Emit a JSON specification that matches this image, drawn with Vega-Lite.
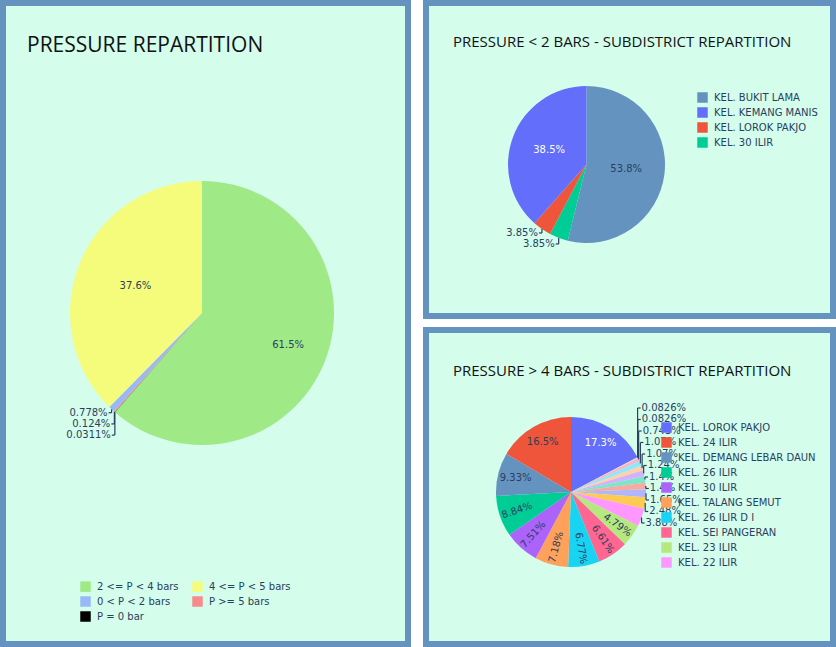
{
  "$schema": "https://vega.github.io/schema/vega-lite/v6.json",
  "background": "#ffffff",
  "padding": 0,
  "config": {
    "view": {"fill": "#d4fdec", "stroke": "#6593bf", "strokeWidth": 6},
    "font": "DejaVu Sans",
    "title": {"font": "Open Sans", "fontWeight": "normal", "color": "#111111", "anchor": "start", "frame": "group", "offset": 0, "baseline": "alphabetic"},
    "legend": {"labelFont": "DejaVu Sans", "labelFontSize": 10, "labelColor": "#2a3f5f", "symbolType": "square", "symbolSize": 110, "symbolStrokeWidth": 0, "rowPadding": 4, "padding": 0, "labelOffset": 6, "orient": "none", "labelLimit": 300}
  },
  "spacing": 12,
  "resolve": {"scale": {"color": "independent", "x": "independent", "y": "independent", "theta": "independent"}, "legend": {"color": "independent"}},
  "hconcat": [
    {
      "width": 405,
      "height": 641,
      "title": {"text": "PRESSURE REPARTITION", "fontSize": 21, "dx": 24, "dy": 57},
      "data": {"values": [
        {"range": "2 <= P < 4 bars", "count": 1976},
        {"range": "P = 0 bar", "count": 1},
        {"range": "P >= 5 bars", "count": 4},
        {"range": "0 < P < 2 bars", "count": 25},
        {"range": "4 <= P < 5 bars", "count": 1209}
      ]},
      "transform": [
        {"window": [{"op": "row_number", "as": "idx"}]},
        {"joinaggregate": [{"op": "sum", "field": "count", "as": "total"}]},
        {"window": [{"op": "sum", "field": "count", "as": "cum"}], "sort": [{"field": "idx", "order": "ascending"}], "frame": [null, 0]},
        {"calculate": "format(datum.count / datum.total, '.3~p')", "as": "plabel"},
        {"calculate": "(datum.cum - datum.count / 2) / datum.total * 2 * PI", "as": "rad"},
        {"calculate": "datum.count / datum.total > 0.5 ? 92 : 72", "as": "lrad"},
        {"calculate": "0.4914 + 132 * sin(datum.rad) / 405", "as": "ex"},
        {"calculate": "0.4836 - 132 * cos(datum.rad) / 641", "as": "ey"}
      ],
      "resolve": {"scale": {"theta": "independent"}},
      "layer": [
        {
          "mark": {"type": "arc", "outerRadius": 132},
          "encoding": {
            "theta": {"field": "count", "type": "quantitative", "stack": true},
            "order": {"field": "idx", "type": "quantitative"},
            "color": {"field": "range", "type": "nominal",
              "scale": {"domain": ["2 <= P < 4 bars", "4 <= P < 5 bars", "0 < P < 2 bars", "P >= 5 bars", "P = 0 bar"],
                        "range": ["#9fea87", "#f5fc7c", "#99b9f6", "#f78a8a", "#000000"]},
              "legend": {"title": null, "columns": 2, "direction": "horizontal", "columnPadding": 13, "legendX": 77, "legendY": 578}},
            "x": {"datum": 0.4914, "type": "quantitative", "scale": {"domain": [0, 1], "nice": false, "zero": false}, "axis": null},
            "y": {"datum": 0.4836, "type": "quantitative", "scale": {"domain": [0, 1], "nice": false, "zero": false, "reverse": true}, "axis": null}
          }
        },
        {
          "transform": [{"filter": "datum.count >= 100"}],
          "mark": {"type": "text", "fontSize": 10, "color": "#2a3f5f", "baseline": "middle"},
          "encoding": {
            "theta": {"field": "rad", "type": "quantitative", "scale": null},
            "radius": {"field": "lrad", "type": "quantitative", "scale": null},
            "text": {"field": "plabel", "type": "nominal"},
            "x": {"datum": 0.4914, "type": "quantitative", "scale": {"domain": [0, 1], "nice": false, "zero": false}, "axis": null},
            "y": {"datum": 0.4836, "type": "quantitative", "scale": {"domain": [0, 1], "nice": false, "zero": false, "reverse": true}, "axis": null}
          }
        },
        {
          "transform": [
            {"filter": "datum.count < 100"},
            {"window": [{"op": "row_number", "as": "rank"}], "sort": [{"field": "idx", "order": "descending"}]},
            {"calculate": "0.6392 + (datum.rank - 1) * 0.01747", "as": "ly"},
            {"calculate": "datum.ex - 3 / 405", "as": "ex2"}
          ],
          "layer": [
            {"mark": {"type": "rule", "color": "#2a3f5f", "strokeWidth": 1.2},
             "encoding": {
               "x": {"field": "ex", "type": "quantitative", "scale": {"domain": [0, 1], "nice": false, "zero": false}, "axis": null},
               "y": {"field": "ey", "type": "quantitative", "scale": {"domain": [0, 1], "nice": false, "zero": false, "reverse": true}, "axis": null},
               "y2": {"field": "ly"}
             }},
            {"mark": {"type": "rule", "color": "#2a3f5f", "strokeWidth": 1.2},
             "encoding": {
               "x": {"field": "ex", "type": "quantitative", "scale": {"domain": [0, 1], "nice": false, "zero": false}, "axis": null},
               "x2": {"field": "ex2"},
               "y": {"field": "ly", "type": "quantitative", "scale": {"domain": [0, 1], "nice": false, "zero": false, "reverse": true}, "axis": null}
             }},
            {"mark": {"type": "text", "align": "right", "baseline": "middle", "dx": -4, "fontSize": 10, "color": "#2a3f5f"},
             "encoding": {
               "x": {"field": "ex", "type": "quantitative", "scale": {"domain": [0, 1], "nice": false, "zero": false}, "axis": null},
               "y": {"field": "ly", "type": "quantitative", "scale": {"domain": [0, 1], "nice": false, "zero": false, "reverse": true}, "axis": null},
               "text": {"field": "plabel", "type": "nominal"}
             }}
          ]
        }
      ]
    },
    {
      "spacing": 8,
      "resolve": {"scale": {"color": "independent", "x": "independent", "y": "independent", "theta": "independent"}, "legend": {"color": "independent"}},
      "vconcat": [
        {
          "width": 407,
          "height": 313,
          "title": {"text": "PRESSURE < 2 BARS - SUBDISTRICT REPARTITION", "fontSize": 15, "dx": 27, "dy": 51},
          "data": {"values": [
            {"sub": "KEL. BUKIT LAMA", "count": 14},
            {"sub": "KEL. 30 ILIR", "count": 1},
            {"sub": "KEL. LOROK PAKJO", "count": 1},
            {"sub": "KEL. KEMANG MANIS", "count": 10}
          ]},
          "transform": [
            {"window": [{"op": "row_number", "as": "idx"}]},
            {"joinaggregate": [{"op": "sum", "field": "count", "as": "total"}]},
            {"window": [{"op": "sum", "field": "count", "as": "cum"}], "sort": [{"field": "idx", "order": "ascending"}], "frame": [null, 0]},
            {"calculate": "format(datum.count / datum.total, '.3~p')", "as": "plabel"},
            {"calculate": "(datum.cum - datum.count / 2) / datum.total * 2 * PI", "as": "rad"},
            {"calculate": "0.3944 + 78.5 * sin(datum.rad) / 407", "as": "ex"},
            {"calculate": "0.516 - 78.5 * cos(datum.rad) / 313", "as": "ey"}
          ],
          "resolve": {"scale": {"theta": "independent"}},
          "layer": [
            {
              "mark": {"type": "arc", "outerRadius": 78.5},
              "encoding": {
                "theta": {"field": "count", "type": "quantitative", "stack": true},
                "order": {"field": "idx", "type": "quantitative"},
                "color": {"field": "sub", "type": "nominal",
                  "scale": {"domain": ["KEL. BUKIT LAMA", "KEL. KEMANG MANIS", "KEL. LOROK PAKJO", "KEL. 30 ILIR"],
                            "range": ["#6593bf", "#636efa", "#ef553b", "#00cc96"]},
                  "legend": {"title": null, "legendX": 271, "legendY": 89}},
                "x": {"datum": 0.3944, "type": "quantitative", "scale": {"domain": [0, 1], "nice": false, "zero": false}, "axis": null},
                "y": {"datum": 0.516, "type": "quantitative", "scale": {"domain": [0, 1], "nice": false, "zero": false, "reverse": true}, "axis": null}
              }
            },
            {
              "transform": [{"filter": "datum.count >= 5"}],
              "mark": {"type": "text", "radius": 40, "fontSize": 10, "baseline": "middle"},
              "encoding": {
                "theta": {"field": "rad", "type": "quantitative", "scale": null},
                "text": {"field": "plabel", "type": "nominal"},
                "color": {"condition": {"test": "datum.sub === 'KEL. KEMANG MANIS'", "value": "#ffffff"}, "value": "#2a3f5f"},
                "x": {"datum": 0.3944, "type": "quantitative", "scale": {"domain": [0, 1], "nice": false, "zero": false}, "axis": null},
                "y": {"datum": 0.516, "type": "quantitative", "scale": {"domain": [0, 1], "nice": false, "zero": false, "reverse": true}, "axis": null}
              }
            },
            {
              "transform": [
                {"filter": "datum.count < 5"},
                {"window": [{"op": "row_number", "as": "rank"}], "sort": [{"field": "idx", "order": "descending"}]},
                {"calculate": "0.7348 + (datum.rank - 1) * 0.0351", "as": "ly"},
                {"calculate": "datum.ex - 3 / 407", "as": "ex2"}
              ],
              "layer": [
                {"mark": {"type": "rule", "color": "#2a3f5f", "strokeWidth": 1.2},
                 "encoding": {
                   "x": {"field": "ex", "type": "quantitative", "scale": {"domain": [0, 1], "nice": false, "zero": false}, "axis": null},
                   "y": {"field": "ey", "type": "quantitative", "scale": {"domain": [0, 1], "nice": false, "zero": false, "reverse": true}, "axis": null},
                   "y2": {"field": "ly"}
                 }},
                {"mark": {"type": "rule", "color": "#2a3f5f", "strokeWidth": 1.2},
                 "encoding": {
                   "x": {"field": "ex", "type": "quantitative", "scale": {"domain": [0, 1], "nice": false, "zero": false}, "axis": null},
                   "x2": {"field": "ex2"},
                   "y": {"field": "ly", "type": "quantitative", "scale": {"domain": [0, 1], "nice": false, "zero": false, "reverse": true}, "axis": null}
                 }},
                {"mark": {"type": "text", "align": "right", "baseline": "middle", "dx": -4, "fontSize": 10, "color": "#2a3f5f"},
                 "encoding": {
                   "x": {"field": "ex", "type": "quantitative", "scale": {"domain": [0, 1], "nice": false, "zero": false}, "axis": null},
                   "y": {"field": "ly", "type": "quantitative", "scale": {"domain": [0, 1], "nice": false, "zero": false, "reverse": true}, "axis": null},
                   "text": {"field": "plabel", "type": "nominal"}
                 }}
              ]
            }
          ]
        },
        {
          "width": 407,
          "height": 314,
          "title": {"text": "PRESSURE > 4 BARS - SUBDISTRICT REPARTITION", "fontSize": 15, "dx": 27, "dy": 53},
          "data": {"values": [
            {"sub": "KEL. LOROK PAKJO", "count": 210},
            {"sub": "KEL. 20 ILIR D III", "count": 1},
            {"sub": "KEL. SIRING AGUNG", "count": 1},
            {"sub": "KEL. 9 ILIR", "count": 9},
            {"sub": "KEL. 15 ILIR", "count": 13},
            {"sub": "KEL. 16 ILIR", "count": 13},
            {"sub": "KEL. 17 ILIR", "count": 15},
            {"sub": "KEL. 18 ILIR", "count": 17},
            {"sub": "KEL. 19 ILIR", "count": 17},
            {"sub": "KEL. 20 ILIR D II", "count": 20},
            {"sub": "KEL. 20 ILIR D IV", "count": 30},
            {"sub": "KEL. 22 ILIR", "count": 47},
            {"sub": "KEL. 23 ILIR", "count": 58},
            {"sub": "KEL. SEI PANGERAN", "count": 80},
            {"sub": "KEL. 26 ILIR D I", "count": 82},
            {"sub": "KEL. TALANG SEMUT", "count": 87},
            {"sub": "KEL. 30 ILIR", "count": 91},
            {"sub": "KEL. 26 ILIR", "count": 107},
            {"sub": "KEL. DEMANG LEBAR DAUN", "count": 113},
            {"sub": "KEL. 24 ILIR", "count": 200}
          ]},
          "transform": [
            {"window": [{"op": "row_number", "as": "idx"}]},
            {"joinaggregate": [{"op": "sum", "field": "count", "as": "total"}]},
            {"window": [{"op": "sum", "field": "count", "as": "cum"}], "sort": [{"field": "idx", "order": "ascending"}], "frame": [null, 0]},
            {"calculate": "format(datum.count / datum.total, '.3~p')", "as": "plabel"},
            {"calculate": "(datum.cum - datum.count / 2) / datum.total * 2 * PI", "as": "rad"},
            {"calculate": "datum.rad * 180 / PI", "as": "deg"},
            {"calculate": "datum.count >= 110 ? 0 : (datum.deg - 90 > 90 ? datum.deg - 270 : datum.deg - 90)", "as": "tang"},
            {"calculate": "0.3563 + 75 * sin(datum.rad) / 407", "as": "ex"},
            {"calculate": "0.5159 - 75 * cos(datum.rad) / 314", "as": "ey"}
          ],
          "resolve": {"scale": {"theta": "independent"}},
          "layer": [
            {
              "mark": {"type": "arc", "outerRadius": 75},
              "encoding": {
                "theta": {"field": "count", "type": "quantitative", "stack": true},
                "order": {"field": "idx", "type": "quantitative"},
                "color": {"field": "sub", "type": "nominal",
                  "scale": {"domain": ["KEL. LOROK PAKJO", "KEL. 24 ILIR", "KEL. DEMANG LEBAR DAUN", "KEL. 26 ILIR", "KEL. 30 ILIR", "KEL. TALANG SEMUT", "KEL. 26 ILIR D I", "KEL. SEI PANGERAN", "KEL. 23 ILIR", "KEL. 22 ILIR", "KEL. 20 ILIR D IV", "KEL. 20 ILIR D II", "KEL. 19 ILIR", "KEL. 18 ILIR", "KEL. 17 ILIR", "KEL. 16 ILIR", "KEL. 15 ILIR", "KEL. 9 ILIR", "KEL. SIRING AGUNG", "KEL. 20 ILIR D III"],
                            "range": ["#636efa", "#ef553b", "#6593bf", "#00cc96", "#ab63fa", "#ffa15a", "#19d3f3", "#ff6692", "#b6e880", "#ff97ff", "#fecb52", "#b1b6fc", "#f7aa9d", "#7fe5ca", "#d5b1fc", "#ffd0ac", "#8ce9f9", "#ffb2c8", "#daf3bf", "#ffcbff"]},
                  "legend": {"title": null, "legendX": 235, "legendY": 92,
                    "values": ["KEL. LOROK PAKJO", "KEL. 24 ILIR", "KEL. DEMANG LEBAR DAUN", "KEL. 26 ILIR", "KEL. 30 ILIR", "KEL. TALANG SEMUT", "KEL. 26 ILIR D I", "KEL. SEI PANGERAN", "KEL. 23 ILIR", "KEL. 22 ILIR"]}},
                "x": {"datum": 0.3563, "type": "quantitative", "scale": {"domain": [0, 1], "nice": false, "zero": false}, "axis": null},
                "y": {"datum": 0.5159, "type": "quantitative", "scale": {"domain": [0, 1], "nice": false, "zero": false, "reverse": true}, "axis": null}
              }
            },
            {
              "transform": [{"filter": "datum.count >= 50"}],
              "mark": {"type": "text", "radius": 57, "fontSize": 10, "baseline": "middle"},
              "encoding": {
                "theta": {"field": "rad", "type": "quantitative", "scale": null},
                "angle": {"field": "tang", "type": "quantitative", "scale": null},
                "text": {"field": "plabel", "type": "nominal"},
                "color": {"condition": {"test": "datum.sub === 'KEL. LOROK PAKJO'", "value": "#ffffff"}, "value": "#2a3f5f"},
                "x": {"datum": 0.3563, "type": "quantitative", "scale": {"domain": [0, 1], "nice": false, "zero": false}, "axis": null},
                "y": {"datum": 0.5159, "type": "quantitative", "scale": {"domain": [0, 1], "nice": false, "zero": false, "reverse": true}, "axis": null}
              }
            },
            {
              "transform": [
                {"filter": "datum.count < 50"},
                {"window": [{"op": "row_number", "as": "rank"}], "sort": [{"field": "idx", "order": "ascending"}]},
                {"calculate": "0.2484 + (datum.rank - 1) * 0.03662", "as": "ly"},
                {"calculate": "datum.ex + 3 / 407", "as": "ex2"}
              ],
              "layer": [
                {"mark": {"type": "rule", "color": "#2a3f5f", "strokeWidth": 1.2},
                 "encoding": {
                   "x": {"field": "ex", "type": "quantitative", "scale": {"domain": [0, 1], "nice": false, "zero": false}, "axis": null},
                   "y": {"field": "ey", "type": "quantitative", "scale": {"domain": [0, 1], "nice": false, "zero": false, "reverse": true}, "axis": null},
                   "y2": {"field": "ly"}
                 }},
                {"mark": {"type": "rule", "color": "#2a3f5f", "strokeWidth": 1.2},
                 "encoding": {
                   "x": {"field": "ex", "type": "quantitative", "scale": {"domain": [0, 1], "nice": false, "zero": false}, "axis": null},
                   "x2": {"field": "ex2"},
                   "y": {"field": "ly", "type": "quantitative", "scale": {"domain": [0, 1], "nice": false, "zero": false, "reverse": true}, "axis": null}
                 }},
                {"mark": {"type": "text", "align": "left", "baseline": "middle", "dx": 4, "fontSize": 10, "color": "#2a3f5f"},
                 "encoding": {
                   "x": {"field": "ex", "type": "quantitative", "scale": {"domain": [0, 1], "nice": false, "zero": false}, "axis": null},
                   "y": {"field": "ly", "type": "quantitative", "scale": {"domain": [0, 1], "nice": false, "zero": false, "reverse": true}, "axis": null},
                   "text": {"field": "plabel", "type": "nominal"}
                 }}
              ]
            }
          ]
        }
      ]
    }
  ]
}
